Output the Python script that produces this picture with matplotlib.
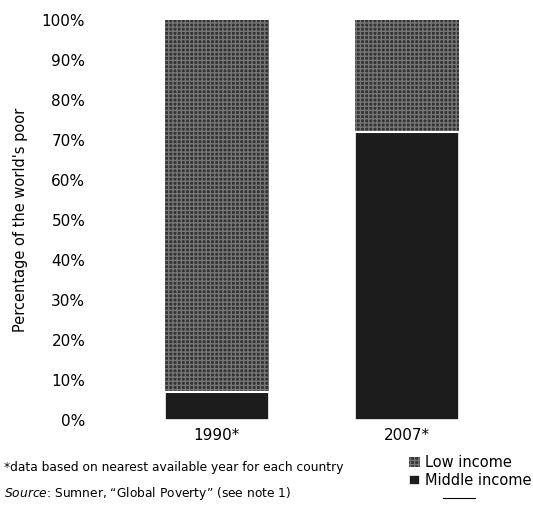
import matplotlib.pyplot as plt
from matplotlib.lines import Line2D
import matplotlib as mpl

categories = ["1990*", "2007*"]
middle_income = [7, 72]
low_income = [93, 28]
yticks = [0, 10, 20, 30, 40, 50, 60, 70, 80, 90, 100]
ytick_labels = [f"{v}%" for v in yticks]

mpl.rcParams['font.family'] = ['DejaVu Sans']
mpl.rcParams['hatch.linewidth'] = 1.0
mpl.rcParams['mathtext.fontset'] = 'dejavusans'

fig = plt.figure(figsize=(5.33, 5.14), dpi=100)
ax = fig.add_axes([95/533, 94/514, 425/533, 400/514])

x = list(range(len(categories)))
w = 0.55
b1 = ax.bar(x, middle_income, width=w, color='#1c1c1c', edgecolor='white', linewidth=1.2,
            label='Middle income')
b2 = ax.bar(x, low_income, width=w, bottom=middle_income, color='#333333',
            edgecolor='#767676', hatch='++++', linewidth=0, label='Low income')
for xi, m in zip(x, middle_income):
    ax.plot([xi - w/2, xi + w/2], [m, m], color='white', lw=1.5, zorder=5)

ax.set_xlim(-0.642, 1.595)
ax.set_ylim(0, 100)
ax.set_yticks(yticks)
ax.set_yticklabels(ytick_labels, fontsize=11)
ax.set_xticks(x)
ax.set_xticklabels(categories, fontsize=11)
ax.tick_params(axis='both', length=0, pad=7)
ax.tick_params(axis='x', pad=6)
for s in ax.spines.values():
    s.set_visible(False)
ax.set_ylabel("Percentage of the world's poor", fontsize=10.5, labelpad=10)

fig.text(4/533, 1 - 467/514, "*data based on nearest available year for each country",
         fontsize=8.8, va='center', ha='left')
fig.text(4/533, 1 - 493/514,
         r"$\mathit{Source}$" + ": Sumner, \u201cGlobal Poverty\u201d (see note 1)",
         fontsize=8.8, va='center', ha='left')

fig.legend(handles=[b2, b1], labels=['Low income', 'Middle income'],
           loc='upper left', bbox_to_anchor=(402/533, 1 - 448/514), frameon=False,
           fontsize=10.5, handlelength=0.7, handleheight=0.7, handletextpad=0.4,
           labelspacing=0.2, borderpad=0)
fig.add_artist(Line2D([443/533, 475/533], [1 - 498/514, 1 - 498/514], color='black', lw=0.8))

fig.savefig('out.png', dpi=100)
